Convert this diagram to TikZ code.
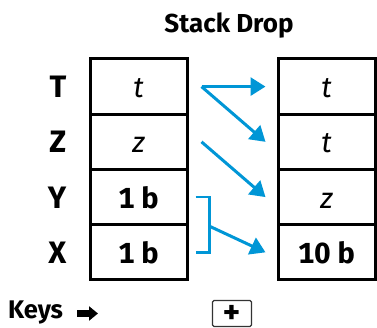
\documentclass[tikz,border=0pt]{standalone}
\usepackage{fontspec}
\setmainfont[Numbers=Monospaced]{Fira Sans}
\usepackage{tikz}
\usetikzlibrary{positioning,arrows.meta}
\definecolor{MoveC}{HTML}{0096D6}
\definecolor{KeyC}{HTML}{333333}

\begin{document}
\begin{tikzpicture}[x=1pt,y=-1pt,
  cell/.style={draw,line width=3pt,minimum width=97pt,minimum height=55.25pt,
               inner sep=0pt,text height=22pt,text depth=0pt,
               font=\fontsize{29}{32}\selectfont},
  reg/.style={inner sep=0pt,text height=22pt,text depth=0pt,
              font=\fontsize{31}{34}\selectfont\bfseries},
  ar/.style={-{Triangle[length=15pt,width=18pt]},line width=3pt,draw=MoveC},
  brk/.style={line width=2.6pt,draw=MoveC},
  keyarrow/.style={-{Triangle[length=9pt,width=14pt]},line width=7pt},
  keybox/.style={draw=KeyC,line width=1.1pt,rounded corners=1.5pt,
                 minimum width=39pt,minimum height=26pt,inner sep=0pt,
                 text height=19pt,text depth=0pt,
                 font=\fontsize{33}{33}\selectfont\bfseries}]
\useasboundingbox (0,0) rectangle (377,328);

\node[font=\fontsize{26}{30}\selectfont\bfseries,anchor=base] (title) at (229,33) {Stack Drop};

% stack before
\node[cell] (lT) at (138.5,86.6)  {\itshape t};
\node[cell] (lZ) at (138.5,141.85) {\itshape z};
\node[cell] (lY) at (138.5,197.1) {\bfseries 1 b};
\node[cell] (lX) at (138.5,252.35) {\bfseries 1 b};

% stack after
\node[cell] (rT) at (326.5,86.6)  {\itshape t};
\node[cell] (rZ) at (326.5,141.85) {\itshape t};
\node[cell] (rY) at (326.5,197.1) {\itshape z};
\node[cell] (rX) at (326.5,252.35) {\bfseries 10 b};

% register names
\foreach \r in {T,Z,Y,X}
  \node[reg,left=22pt of l\r] (n\r) {\r};

% moves
\draw[ar] ([xshift=13pt]lT.east) -- ([xshift=-11pt]rT.west);
\draw[ar] ([xshift=13pt]lT.east) -- ([xshift=-11pt]rZ.west);
\draw[ar] ([xshift=13pt]lZ.east) -- ([xshift=-11pt]rY.west);
\draw[brk] ([xshift=7pt]lY.east) -- ++(14pt,0) coordinate (b1) |- ([xshift=7pt]lX.east);
\draw[ar] (b1 |- lY.south) -- ([xshift=-11pt]rX.west);

% key row
\node[font=\fontsize{25.5}{28}\selectfont\bfseries,anchor=base west,inner sep=0pt] (keys) at (8,318) {Keys};
\draw[keyarrow] (77,313.5) -- (98,313.5);
\node[keybox] (plus) at (232,313.5) {+};

\end{tikzpicture}
\end{document}
